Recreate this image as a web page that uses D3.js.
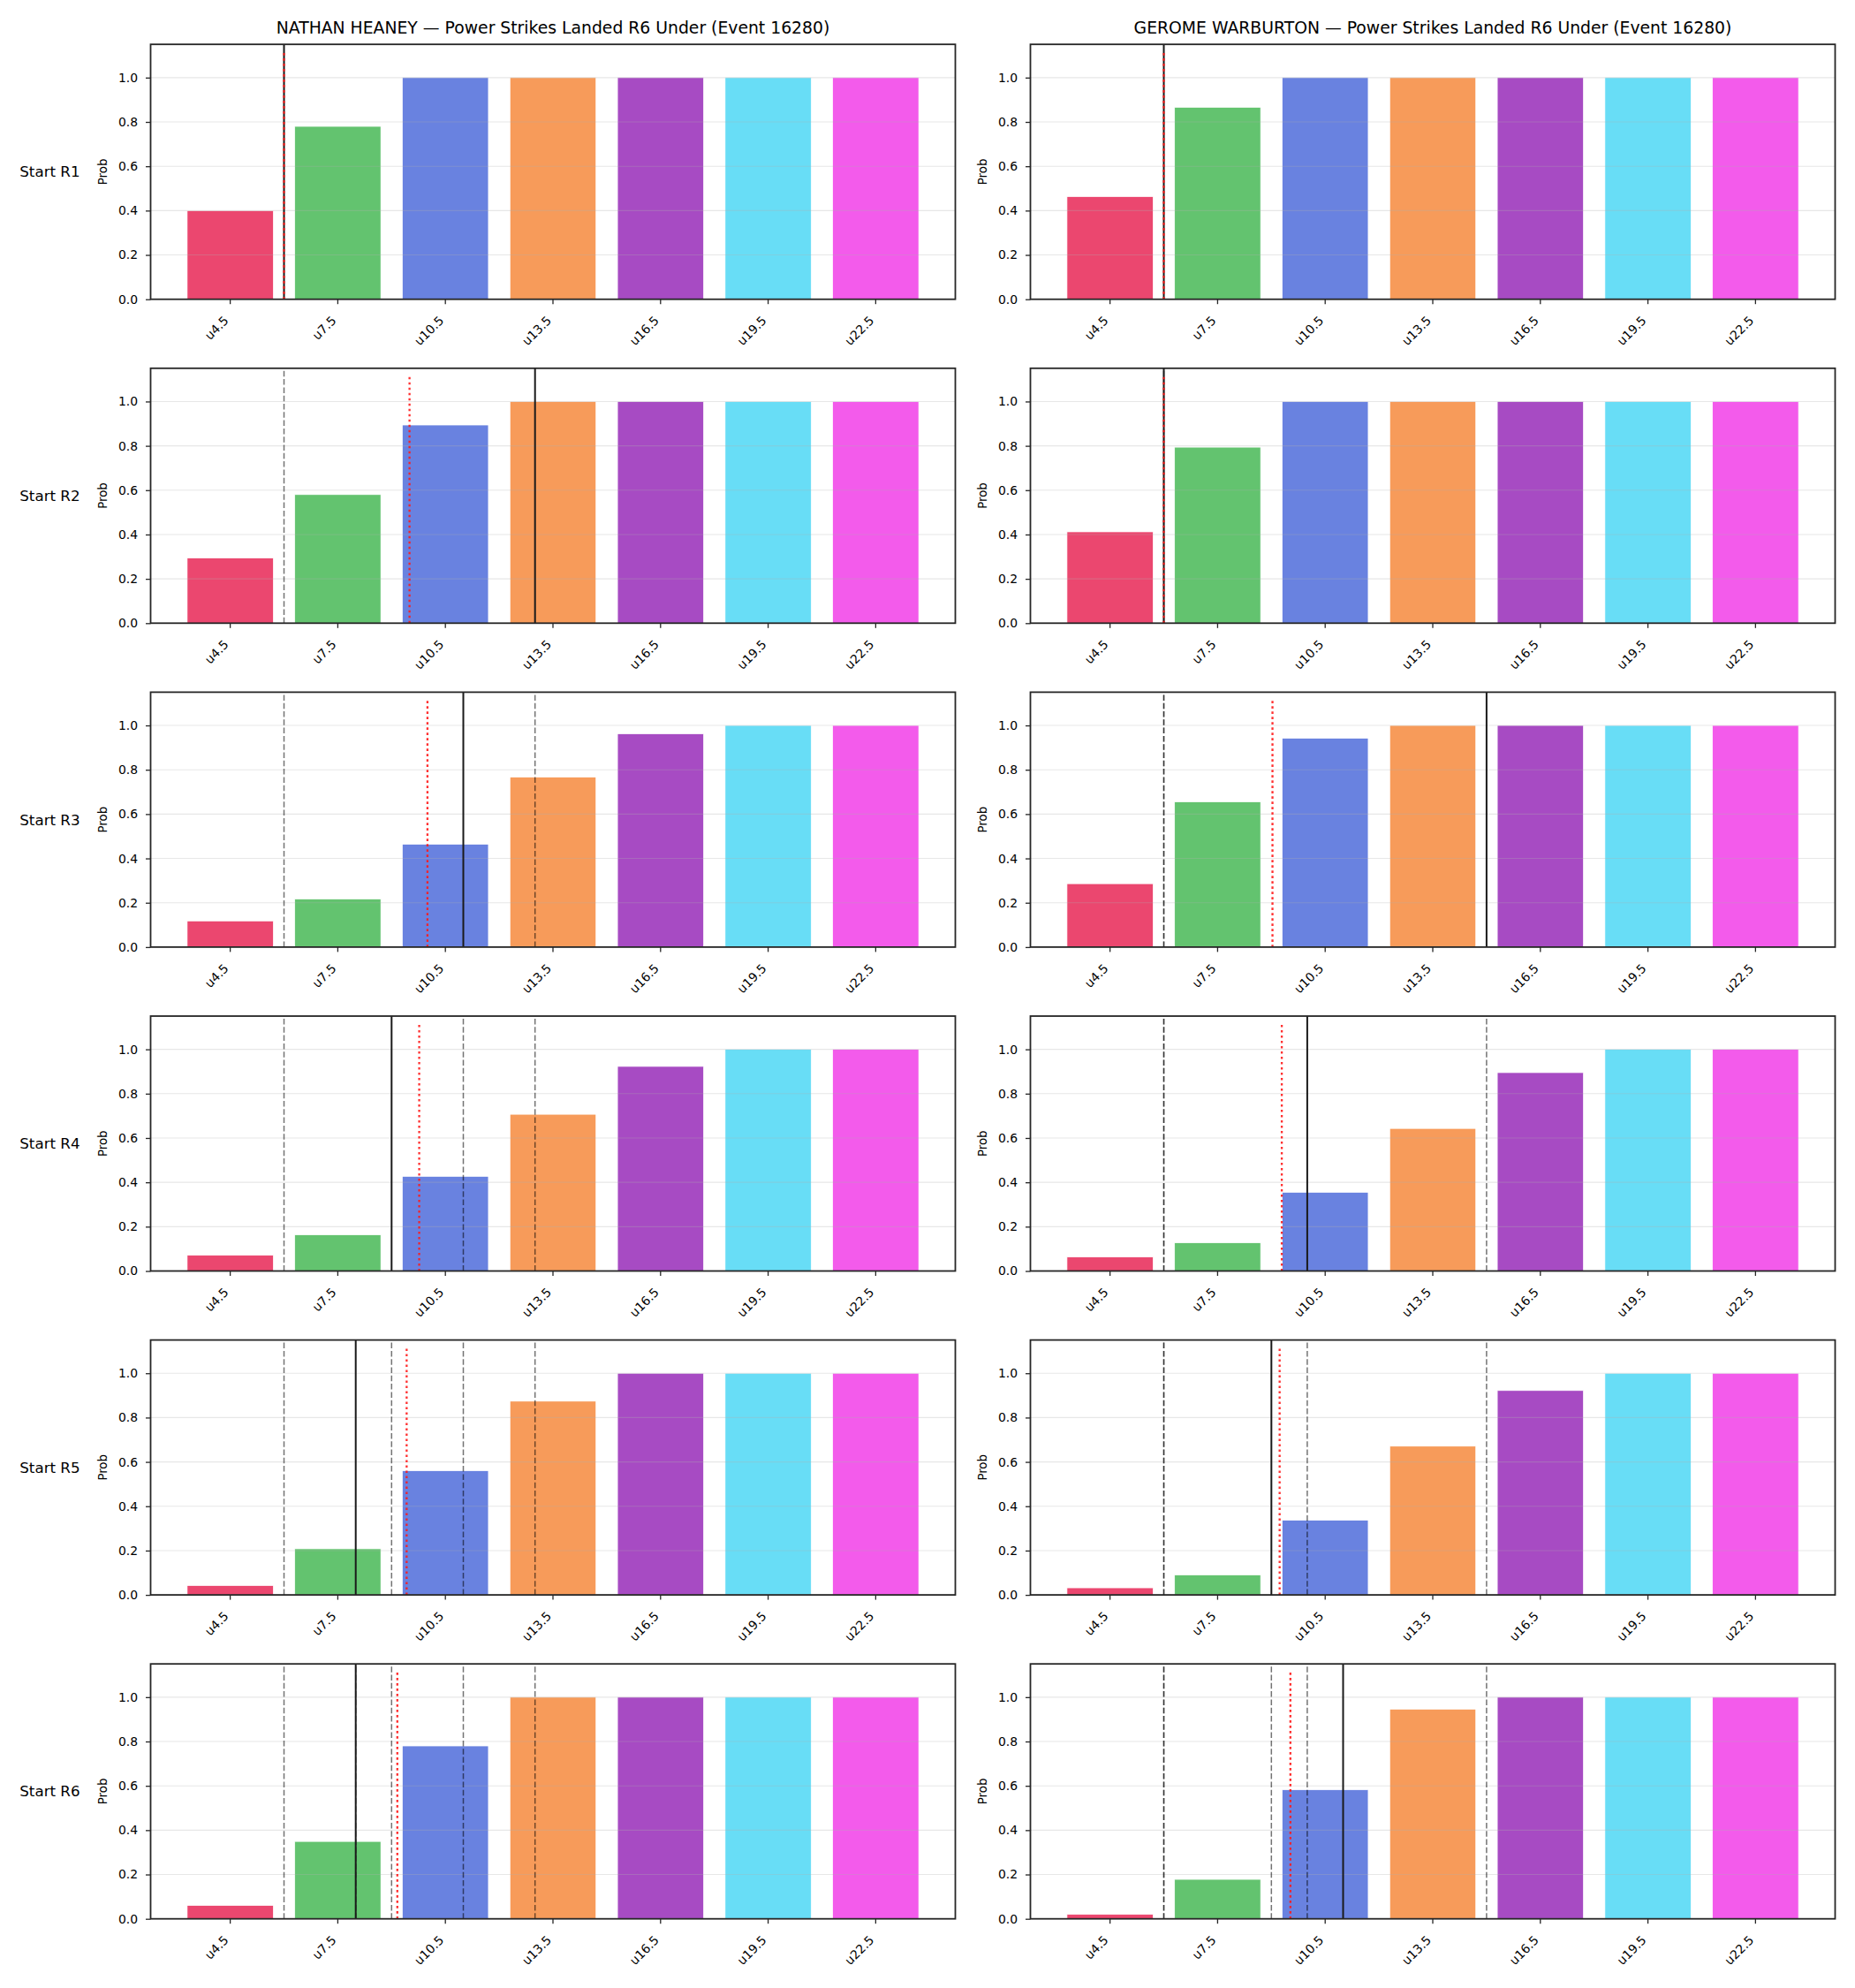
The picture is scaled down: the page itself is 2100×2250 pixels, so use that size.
<!DOCTYPE html>
<html>
<head>
<meta charset="utf-8">
<script src="https://cdn.jsdelivr.net/npm/d3@7"></script>
<style>
  body{margin:0;background:#fff}
  svg{display:block;font-family:"DejaVu Sans",sans-serif}
</style>
</head>
<body>
<div id="chart"></div>
<script>
// ---- data ----
const categories = ["u4.5","u7.5","u10.5","u13.5","u16.5","u19.5","u22.5"];
const thresholds = [4.5,7.5,10.5,13.5,16.5,19.5,22.5];
const rounds = ["Start R1","Start R2","Start R3","Start R4","Start R5","Start R6"];
const fighters = ["NATHAN HEANEY","GEROME WARBURTON"];
const yTicks = [0,0.2,0.4,0.6,0.8,1.0];
const barColors = ["#e6194b","#3cb44b","#4363d8","#f58231","#911eb4","#42d4f4","#f032e6"];

// P(under) per round, per threshold
const heaneyProbs = [
  [0.40,0.78,1,1,1,1,1],
  [0.294,0.58,0.894,1,1,1,1],
  [0.118,0.217,0.464,0.767,0.962,1,1],
  [0.071,0.163,0.427,0.707,0.923,1,1],
  [0.042,0.208,0.56,0.874,1,1,1],
  [0.06,0.349,0.78,1,1,1,1]
];
const warburtonProbs = [
  [0.463,0.866,1,1,1,1,1],
  [0.412,0.794,1,1,1,1,1],
  [0.286,0.655,0.942,1,1,1,1],
  [0.063,0.127,0.355,0.643,0.895,1,1],
  [0.032,0.09,0.337,0.671,0.922,1,1],
  [0.02,0.178,0.582,0.946,1,1,1]
];
// black solid = current line, red dotted = expected, dashed = earlier rounds' lines
const heaneyLine = [6,13,11,9,8,8];
const heaneyExpected = [6,9.5,10,9.77,9.42,9.16];
const warburtonLine = [6,6,15,10,9,11];
const warburtonExpected = [6,6,9.03,9.29,9.23,9.53];

const panels = [
  {name: fighters[0], probs: heaneyProbs, line: heaneyLine, exp: heaneyExpected},
  {name: fighters[1], probs: warburtonProbs, line: warburtonLine, exp: warburtonExpected}
];

// ---- layout ----
const W = 2100, H = 2250;
const colLeft = [170.5, 1166.5], axW = 911;
const rowTop0 = 50.2, rowPitch = 366.6, axH = 288.5;

const svg = d3.select("#chart").append("svg")
  .attr("width", W).attr("height", H)
  .style("background", "#fff");

const x = d3.scaleBand().domain(categories).range([0, axW])
  .paddingInner(0.2).paddingOuter(0.34);
const y = d3.scaleLinear().domain([0, 1.15]).range([axH, 0]);
const cx = c => x(c) + x.bandwidth()/2;
const xv = d3.scaleLinear()
  .domain([thresholds[0], thresholds[thresholds.length-1]])
  .range([cx(categories[0]), cx(categories[categories.length-1])]);

panels.forEach((p, col)=>{
  // title
  svg.append("text")
    .attr("x", colLeft[col] + axW/2).attr("y", 38)
    .attr("text-anchor","middle")
    .attr("font-size", 18.8).attr("fill","#000")
    .text(`${p.name} — Power Strikes Landed R6 Under (Event 16280)`);

  rounds.forEach((rl, r)=>{
    const g = svg.append("g")
      .attr("transform", `translate(${colLeft[col]},${rowTop0 + r*rowPitch})`);

    // bars
    g.selectAll("rect.bar").data(p.probs[r]).enter().append("rect")
      .attr("class","bar")
      .attr("x", (d,i)=> x(categories[i]))
      .attr("width", x.bandwidth())
      .attr("y", d=> y(d))
      .attr("height", d=> y(0) - y(d))
      .attr("fill", (d,i)=> barColors[i])
      .attr("fill-opacity", 0.8)
      .attr("stroke","#fff").attr("stroke-width",0.7);

    // grid
    g.selectAll("line.grid").data(yTicks.slice(1)).enter().append("line")
      .attr("x1",0).attr("x2",axW)
      .attr("y1", d=>y(d)).attr("y2", d=>y(d))
      .attr("stroke","#b0b0b0").attr("stroke-opacity",0.3).attr("stroke-width",1.1);

    // earlier rounds' lines (dashed)
    g.selectAll("line.prev").data(p.line.slice(0, r)).enter().append("line")
      .attr("x1", d=>xv(d)).attr("x2", d=>xv(d))
      .attr("y1", y(0)).attr("y2", y(1.15))
      .attr("stroke","#000").attr("stroke-opacity",0.55)
      .attr("stroke-width",1.5).attr("stroke-dasharray","6.5,2.8");

    // current line (solid)
    g.append("line")
      .attr("x1", xv(p.line[r])).attr("x2", xv(p.line[r]))
      .attr("y1", y(0)).attr("y2", y(1.15))
      .attr("stroke","#1a1a1a").attr("stroke-width",2);

    // expected (red dotted)
    g.append("line")
      .attr("x1", xv(p.exp[r])).attr("x2", xv(p.exp[r]))
      .attr("y1", y(0)).attr("y2", y(1.12))
      .attr("stroke","#ff1a1a").attr("stroke-opacity",0.9)
      .attr("stroke-width",2.3).attr("stroke-dasharray","2.6,3.4");

    // spines
    g.append("rect")
      .attr("x",0).attr("y",0).attr("width",axW).attr("height",axH)
      .attr("fill","none").attr("stroke","#262626").attr("stroke-width",1.8);

    // y axis
    const ya = g.append("g")
      .call(d3.axisLeft(y).tickValues(yTicks).tickFormat(d3.format(".1f"))
        .tickSize(5.5).tickPadding(9));
    ya.select(".domain").remove();
    ya.selectAll(".tick line").attr("stroke","#262626").attr("stroke-width",1.3);
    ya.selectAll(".tick text").attr("font-size",13.9).attr("fill","#000")
      .attr("font-family",'"DejaVu Sans",sans-serif');

    // x axis
    const xa = g.append("g").attr("transform",`translate(0,${axH})`)
      .call(d3.axisBottom(x).tickSize(5.5).tickPadding(0));
    xa.select(".domain").remove();
    xa.selectAll(".tick line").attr("stroke","#262626").attr("stroke-width",1.3);
    xa.selectAll(".tick text")
      .attr("font-size",13.9).attr("fill","#000")
      .attr("font-family",'"DejaVu Sans",sans-serif')
      .attr("text-anchor","end")
      .attr("x",0).attr("y",0).attr("dy","0")
      .attr("transform","translate(-1,25) rotate(-45)");

    // y label
    g.append("text")
      .attr("transform",`translate(${-54.5},${axH/2}) rotate(-90)`)
      .attr("text-anchor","middle").attr("dominant-baseline","central")
      .attr("font-size",13.3).attr("fill","#000")
      .text("Prob");

    // row label (left column only)
    if(col === 0){
      g.append("text")
        .attr("x", 56.4 - colLeft[0]).attr("y", axH/2)
        .attr("text-anchor","middle").attr("dominant-baseline","central")
        .attr("font-size",16.7).attr("fill","#000")
        .text(rl);
    }
  });
});
</script>
</body>
</html>
